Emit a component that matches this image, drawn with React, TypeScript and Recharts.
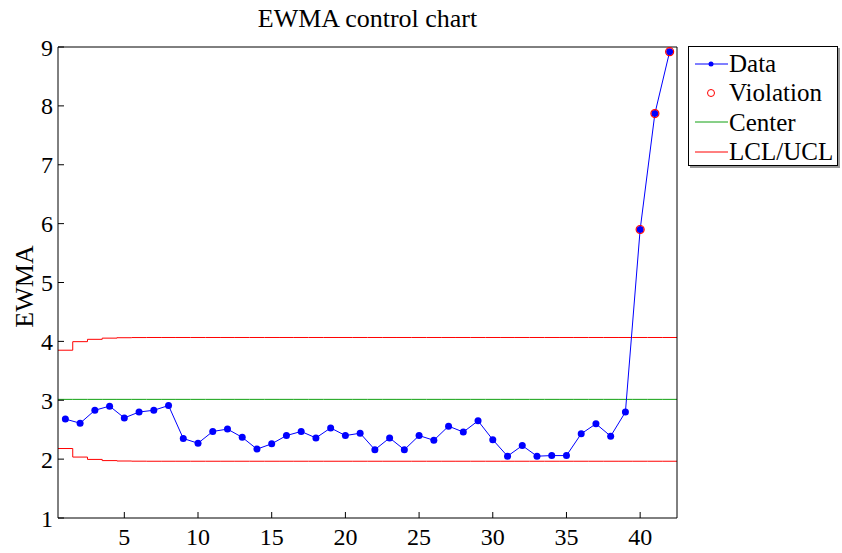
import { LineChart, Line, XAxis, YAxis } from 'recharts';

// EWMA statistic per sample
const samples = Array.from({ length: 42 }, (_, i) => i + 1);
const ewma = [
  2.68, 2.61, 2.83, 2.9, 2.7, 2.8, 2.83, 2.91, 2.35, 2.27,
  2.47, 2.51, 2.37, 2.17, 2.26, 2.4, 2.47, 2.36, 2.53, 2.4,
  2.44, 2.16, 2.36, 2.16, 2.4, 2.32, 2.56, 2.46, 2.65, 2.33,
  2.05, 2.23, 2.05, 2.06, 2.06, 2.43, 2.6, 2.39, 2.8, 5.9,
  7.87, 8.92,
];
// samples flagged as out of control
const violations = [40, 41, 42];

const center = 3.015;
const ucl = [
  3.85, 3.995, 4.035, 4.055, 4.062, 4.065, 4.066, 4.066, 4.066, 4.066,
  4.066, 4.066, 4.066, 4.066, 4.066, 4.066, 4.066, 4.066, 4.066, 4.066,
  4.066, 4.066, 4.066, 4.066, 4.066, 4.066, 4.066, 4.066, 4.066, 4.066,
  4.066, 4.066, 4.066, 4.066, 4.066, 4.066, 4.066, 4.066, 4.066, 4.066,
  4.066, 4.066,
];
const lcl = [
  2.18, 2.035, 1.995, 1.975, 1.968, 1.965, 1.964, 1.964, 1.964, 1.964,
  1.964, 1.964, 1.964, 1.964, 1.964, 1.964, 1.964, 1.964, 1.964, 1.964,
  1.964, 1.964, 1.964, 1.964, 1.964, 1.964, 1.964, 1.964, 1.964, 1.964,
  1.964, 1.964, 1.964, 1.964, 1.964, 1.964, 1.964, 1.964, 1.964, 1.964,
  1.964, 1.964,
];

const xTicks = [5, 10, 15, 20, 25, 30, 35, 40];
const yTicks = [1, 2, 3, 4, 5, 6, 7, 8, 9];

const FONT = "'Liberation Serif', 'DejaVu Serif', serif";
const BLUE = '#0000ff';
const RED = '#ff0000';
const GREEN = '#10a010';

const pointData = samples.map((x, i) => ({
  x,
  value: ewma[i],
  violation: violations.includes(x) ? ewma[i] : null,
}));

// stair edges at x - 0.5 so each limit spans its whole sample cell
const limitData = [...samples, samples.length + 1].map((s, i) => {
  const k = Math.min(i, samples.length - 1);
  return { x: s - 0.5, ucl: ucl[k], lcl: lcl[k], center };
});

const tickStyle = { fontFamily: FONT, fontSize: 24, fill: '#000' };

function YLabel(props: any) {
  const vb = props.viewBox;
  const cx = 24;
  const cy = vb.y + vb.height / 2 + 4;
  return (
    <text
      x={cx}
      y={cy}
      transform={`rotate(-90, ${cx}, ${cy})`}
      textAnchor="middle"
      dominantBaseline="central"
      style={{ fontFamily: FONT, fontSize: 26, fill: '#000' }}
    >
      EWMA
    </text>
  );
}

function Title(props: any) {
  const vb = props.viewBox;
  return (
    <text
      x={vb.x + vb.width / 2}
      y={27}
      textAnchor="middle"
      style={{ fontFamily: FONT, fontSize: 26, fill: '#000' }}
    >
      EWMA control chart
    </text>
  );
}

function LegendBox() {
  const rowStyle = { display: 'flex', alignItems: 'center', height: 29.3 };
  const icon = (kind: string) => (
    <svg width={34} height={20} style={{ marginRight: 1 }}>
      {kind === 'data' && (
        <>
          <line x1={1} y1={10} x2={34} y2={10} stroke={BLUE} strokeWidth={1} />
          <circle cx={17} cy={10} r={2.5} fill={BLUE} />
        </>
      )}
      {kind === 'violation' && <circle cx={17} cy={10} r={3.5} fill="none" stroke={RED} strokeWidth={1} />}
      {kind === 'center' && <line x1={1} y1={10} x2={34} y2={10} stroke={GREEN} strokeWidth={1} />}
      {kind === 'limits' && <line x1={1} y1={10} x2={34} y2={10} stroke={RED} strokeWidth={1} />}
    </svg>
  );
  const items = [
    ['data', 'Data'],
    ['violation', 'Violation'],
    ['center', 'Center'],
    ['limits', 'LCL/UCL'],
  ];
  return (
    <div
      style={{
        position: 'absolute',
        left: 688,
        top: 46,
        width: 150,
        height: 120,
        border: '1px solid #000',
        boxShadow: '2px 2px 0 #999',
        background: '#fff',
        fontFamily: FONT,
        fontSize: 25,
        color: '#000',
        padding: '2px 0 0 5px',
        boxSizing: 'border-box',
        lineHeight: '29px',
      }}
    >
      {items.map(([k, label]) => (
        <div key={k} style={rowStyle}>
          {icon(k)}
          <span>{label}</span>
        </div>
      ))}
    </div>
  );
}

export default function App() {
  return (
    <div style={{ position: 'absolute', left: 0, top: 0, width: 842, height: 553, background: '#fff' }}>
      <LineChart
        width={842}
        height={553}
        margin={{ top: 46, right: 164, bottom: 0, left: 0 }}
      >
        <XAxis
          xAxisId="bottom"
          dataKey="x"
          type="number"
          domain={[0.5, 42.5]}
          ticks={xTicks}
          height={35}
          tickSize={-6}
          tickMargin={16}
          tick={tickStyle}
          stroke="#000"
        />
        <XAxis
          xAxisId="top"
          orientation="top"
          dataKey="x"
          type="number"
          domain={[0.5, 42.5]}
          ticks={xTicks}
          height={1}
          tickSize={-6}
          tick={false}
          stroke="#000"
          label={{ content: Title }}
        />
        <YAxis
          yAxisId="left"
          type="number"
          domain={[1, 9]}
          ticks={yTicks}
          width={58}
          tickSize={-6}
          tickMargin={11}
          tick={tickStyle}
          stroke="#000"
          label={{ content: YLabel }}
        />
        <YAxis
          yAxisId="right"
          orientation="right"
          type="number"
          domain={[1, 9]}
          ticks={yTicks}
          width={1}
          tickSize={-6}
          tick={false}
          stroke="#000"
        />
        <Line
          xAxisId="bottom"
          yAxisId="left"
          data={limitData}
          dataKey="center"
          type="stepAfter"
          stroke={GREEN}
          strokeWidth={1}
          dot={false}
          isAnimationActive={false}
        />
        <Line
          xAxisId="bottom"
          yAxisId="left"
          data={limitData}
          dataKey="ucl"
          type="stepAfter"
          stroke={RED}
          strokeWidth={1}
          dot={false}
          isAnimationActive={false}
        />
        <Line
          xAxisId="bottom"
          yAxisId="left"
          data={limitData}
          dataKey="lcl"
          type="stepAfter"
          stroke={RED}
          strokeWidth={1}
          dot={false}
          isAnimationActive={false}
        />
        <Line
          xAxisId="bottom"
          yAxisId="left"
          data={pointData}
          dataKey="value"
          type="linear"
          stroke={BLUE}
          strokeWidth={1}
          dot={{ r: 3.5, fill: BLUE, stroke: 'none' }}
          isAnimationActive={false}
        />
        <Line
          xAxisId="bottom"
          yAxisId="left"
          data={pointData}
          dataKey="violation"
          stroke="none"
          dot={{ r: 4, fill: 'none', stroke: RED, strokeWidth: 1.2 }}
          isAnimationActive={false}
        />
      </LineChart>
      <LegendBox />
    </div>
  );
}
